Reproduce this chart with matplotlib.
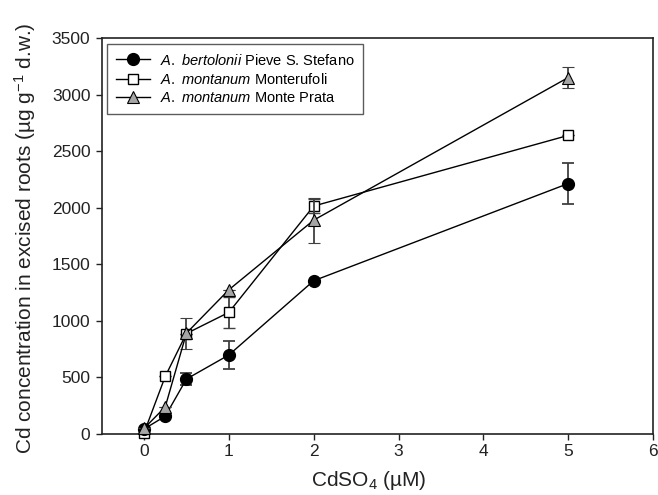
import numpy as np
import matplotlib
matplotlib.use("Agg")
import matplotlib.pyplot as plt

plt.rcParams['font.family'] = ['Liberation Sans', 'DejaVu Sans']
plt.rcParams['mathtext.fontset'] = 'custom'
plt.rcParams['mathtext.rm'] = 'Liberation Sans'
plt.rcParams['mathtext.it'] = 'Liberation Sans:italic'

# CdSO4 concentrations (uM)
conc = [0, 0.25, 0.5, 1, 2, 5]

# A. bertolonii Pieve S. Stefano
bert = [40, 153, 482, 695, 1352, 2212]
bert_err = [0, 0, 55, 128, 0, 185]

# A. montanum Monterufoli
mont = [5, 505, 885, 1072, 2013, 2638]
mont_err = [0, 0, 0, 135, 60, 0]

# A. montanum Monte Prata
prata = [45, 235, 888, 1272, 1888, 3150]
prata_err = [0, 0, 137, 0, 200, 90]

fig = plt.figure(figsize=(6.58, 4.95), dpi=100)
ax = fig.add_axes([0.1544, 0.1242, 0.838, 0.799])

errc = '#404040'
common = dict(lw=1, ecolor=errc, elinewidth=1.3, capsize=4, capthick=1.3, clip_on=False)
e2 = ax.errorbar(conc, mont, yerr=mont_err, fmt='-s', color='black', mfc='white', mec='black',
                 ms=7, mew=1, zorder=3, **common)
e1 = ax.errorbar(conc, bert, yerr=bert_err, fmt='-o', color='black', mfc='black', mec='black',
                 ms=8.5, zorder=4, **common)
e3 = ax.errorbar(conc, prata, yerr=prata_err, fmt='-^', color='black', mfc='#a6a6a6', mec='black',
                 ms=8, mew=0.8, zorder=5, **common)

ax.set_xlim(-0.5, 6)
ax.set_ylim(0, 3500)
ax.set_xticks(range(0, 7))
ax.set_yticks(range(0, 3501, 500))
ax.tick_params(direction='out', length=4, width=1, labelsize=12.5, color='#222222',
               labelcolor='#222222', top=False, right=False)
ax.tick_params(axis='y', pad=4)
for s in ax.spines.values():
    s.set_linewidth(1.2)
    s.set_color('#222222')

ax.set_xlabel('CdSO$_4$ (µM)', fontsize=15, color='#222222')
ax.set_ylabel('Cd concentration in excised roots (µg g$^{-1}$ d.w.)', fontsize=15,
              color='#222222')
ax.xaxis.set_label_coords(0.485, -0.09)
ax.yaxis.set_label_coords(-0.116, 0.495)

leg = ax.legend([e1[0], e2[0], e3[0]],
                [r'$\mathit{A.\ bertolonii}$ Pieve S. Stefano',
                 r'$\mathit{A.\ montanum}$ Monterufoli',
                 r'$\mathit{A.\ montanum}$ Monte Prata'],
                loc='upper left', fontsize=10.5, frameon=True, fancybox=False,
                edgecolor='#333333', handlelength=2.3, borderpad=0.6, labelspacing=0.3,
                handletextpad=0.7, borderaxespad=0.4)
leg.get_frame().set_linewidth(1)

fig.savefig('out.png', dpi=100)
